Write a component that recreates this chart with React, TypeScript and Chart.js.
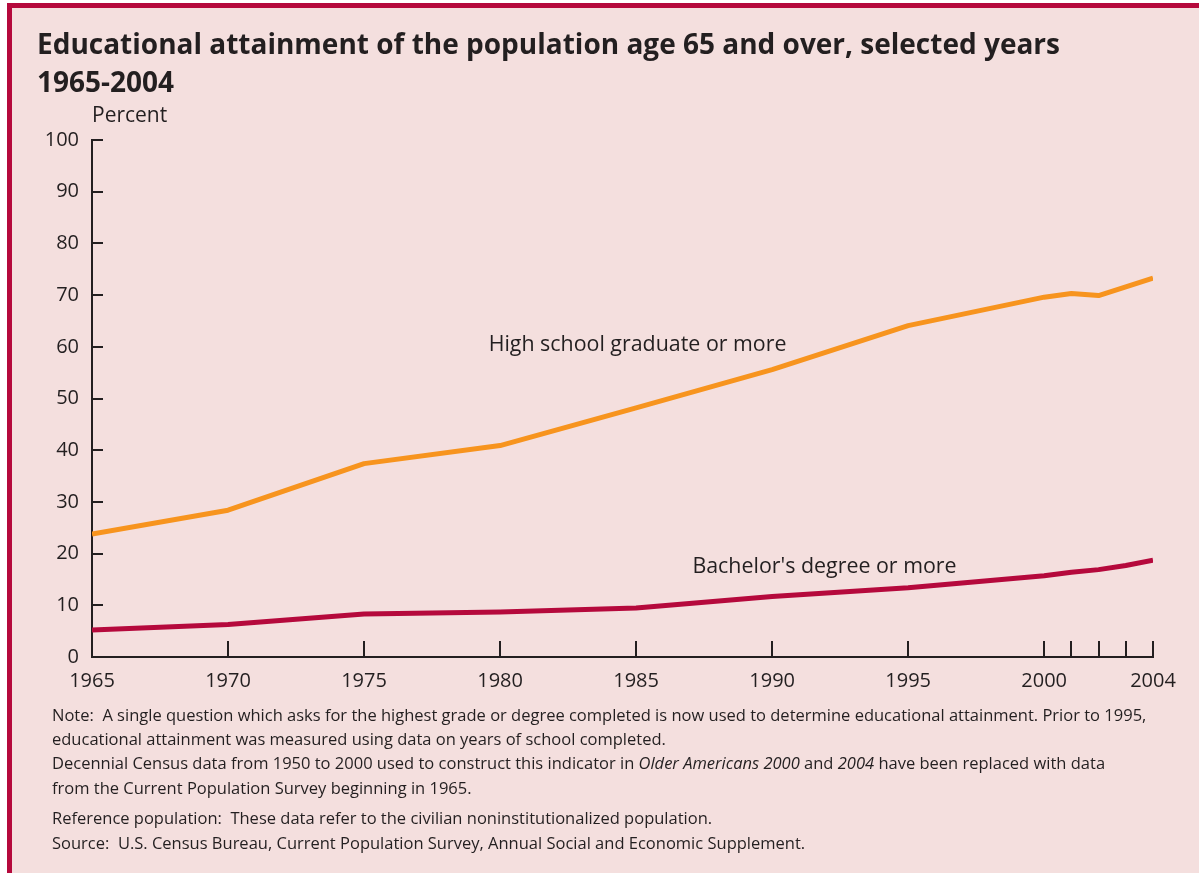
import React, { useEffect, useRef } from "react";
import { Chart, registerables } from "chart.js";

Chart.register(...registerables);

const years = [1965, 1970, 1975, 1980, 1985, 1990, 1995, 2000, 2001, 2002, 2003, 2004];
const highSchool = [23.8, 28.4, 37.4, 40.9, 48.2, 55.6, 64.1, 69.6, 70.3, 69.9, 71.6, 73.3];
const bachelors = [5.2, 6.3, 8.3, 8.7, 9.5, 11.7, 13.4, 15.7, 16.4, 16.9, 17.7, 18.7];
const xTickValues = [1965, 1970, 1975, 1980, 1985, 1990, 1995, 2000, 2001, 2002, 2003, 2004];
const xTickLabels = ["1965", "1970", "1975", "1980", "1985", "1990", "1995", "2000", "", "", "", "2004"];
const seriesNames = ["High school graduate or more", "Bachelor's degree or more"];

const titleLines = [
  "Educational attainment of the population age 65 and over, selected years",
  "1965-2004",
];

const BG = "#f4dfde";
const CRIMSON = "#b5093c";
const ORANGE = "#f7941e";
const INK = "#231f20";
const FONT = '"Open Sans", "Noto Sans", sans-serif';

const labelPlugin = {
  id: "seriesLabels",
  afterDatasetsDraw(chart: any) {
    const { ctx, scales } = chart;
    const anchors = [
      { x: 1979.58, y: 59.1 },
      { x: 1987.07, y: 16.3 },
    ];
    ctx.save();
    ctx.font = `21.4px ${FONT}`;
    ctx.fillStyle = INK;
    ctx.textAlign = "left";
    ctx.textBaseline = "alphabetic";
    seriesNames.forEach((name, i) => {
      ctx.fillText(name, scales.x.getPixelForValue(anchors[i].x), scales.y.getPixelForValue(anchors[i].y));
    });
    ctx.restore();
  },
};

const inwardTicks = {
  id: "inwardTicks",
  afterDraw(chart: any) {
    const { ctx, scales, chartArea } = chart;
    ctx.save();
    ctx.strokeStyle = INK;
    ctx.lineWidth = 2;
    ctx.beginPath();
    scales.x.ticks.forEach((t: any) => {
      const px = Math.round(scales.x.getPixelForValue(t.value));
      ctx.moveTo(px, chartArea.bottom);
      ctx.lineTo(px, chartArea.bottom - 16);
    });
    scales.y.ticks.forEach((t: any) => {
      const py = Math.round(scales.y.getPixelForValue(t.value));
      ctx.moveTo(chartArea.left, py);
      ctx.lineTo(chartArea.left + 11, py);
    });
    ctx.stroke();
    ctx.restore();
  },
};

export default function App() {
  const canvasRef = useRef<HTMLCanvasElement | null>(null);

  useEffect(() => {
    document.body.style.margin = "0";
    const canvas = canvasRef.current;
    if (!canvas) return;
    const chart = new Chart(canvas, {
      type: "line",
      data: {
        datasets: [
          {
            label: seriesNames[0],
            data: years.map((y, i) => ({ x: y, y: highSchool[i] })),
            borderColor: ORANGE,
            borderWidth: 5,
            pointRadius: 0,
            tension: 0,
            fill: false,
            borderCapStyle: "butt",
            borderJoinStyle: "round",
          },
          {
            label: seriesNames[1],
            data: years.map((y, i) => ({ x: y, y: bachelors[i] })),
            borderColor: CRIMSON,
            borderWidth: 5,
            pointRadius: 0,
            tension: 0,
            fill: false,
            borderCapStyle: "butt",
            borderJoinStyle: "round",
          },
        ],
      },
      options: {
        responsive: false,
        animation: false,
        events: [],
        layout: { padding: { left: 0, top: 140, right: 46, bottom: 176 } },
        plugins: { legend: { display: false }, tooltip: { enabled: false }, title: { display: false } },
        scales: {
          x: {
            type: "linear",
            min: 1965,
            max: 2004,
            afterBuildTicks: (s: any) => {
              s.ticks = xTickValues.map((v) => ({ value: v }));
            },
            afterFit: (s: any) => {
              s.height = 40;
            },
            ticks: {
              autoSkip: false,
              maxRotation: 0,
              padding: 12,
              color: INK,
              font: { family: FONT, size: 20 },
              callback: (v: any) => {
                const i = xTickValues.indexOf(Number(v));
                return i >= 0 ? xTickLabels[i] : "";
              },
            },
            grid: { display: false, drawTicks: false },
            border: { display: true, color: INK, width: 2 },
          },
          y: {
            min: 0,
            max: 100,
            afterFit: (s: any) => {
              s.width = 92;
            },
            ticks: {
              stepSize: 10,
              padding: 13,
              color: INK,
              font: { family: FONT, size: 20 },
            },
            grid: { display: false, drawTicks: false },
            border: { display: true, color: INK, width: 2 },
          },
        },
      },
      plugins: [labelPlugin, inwardTicks],
    });
    return () => chart.destroy();
  }, []);

  const noteStyle = (top: number): React.CSSProperties => ({
    position: "absolute",
    left: 52,
    top,
    fontFamily: FONT,
    fontSize: 16.5,
    lineHeight: "16.5px",
    color: INK,
    whiteSpace: "nowrap",
  });

  return (
    <div style={{ position: "relative", width: 1199, height: 873, background: "#ffffff", overflow: "hidden" }}>
      <div style={{ position: "absolute", left: 7, top: 3, right: 0, bottom: 0, background: BG }} />
      <div style={{ position: "absolute", left: 7, top: 3, right: 0, height: 5, background: CRIMSON }} />
      <div style={{ position: "absolute", left: 7, top: 3, width: 5, bottom: 0, background: CRIMSON }} />
      <canvas ref={canvasRef} width={1199} height={873} style={{ position: "absolute", left: 0, top: 0 }} />
      {titleLines.map((t, i) => (
        <div
          key={i}
          style={{
            position: "absolute",
            left: 37,
            top: 29 + i * 38,
            fontFamily: FONT,
            fontWeight: 700,
            fontSize: 28,
            lineHeight: "28px",
            color: INK,
            whiteSpace: "nowrap",
          }}
        >
          {t}
        </div>
      ))}
      <div
        style={{
          position: "absolute",
          left: 92,
          top: 104,
          fontFamily: FONT,
          fontSize: 21,
          lineHeight: "21px",
          color: INK,
          whiteSpace: "nowrap",
        }}
      >
        Percent
      </div>
      <div style={noteStyle(707)}>
        Note:&nbsp; A single question which asks for the highest grade or degree completed is now used to determine educational attainment. Prior to 1995,
      </div>
      <div style={noteStyle(731)}>educational attainment was measured using data on years of school completed.</div>
      <div style={noteStyle(755)}>
        Decennial Census data from 1950 to 2000 used to construct this indicator in <i>Older Americans 2000</i> and <i>2004</i> have been replaced with data
      </div>
      <div style={noteStyle(780)}>from the Current Population Survey beginning in 1965.</div>
      <div style={noteStyle(810)}>Reference population:&nbsp; These data refer to the civilian noninstitutionalized population.</div>
      <div style={noteStyle(835)}>Source:&nbsp; U.S. Census Bureau, Current Population Survey, Annual Social and Economic Supplement.</div>
    </div>
  );
}
